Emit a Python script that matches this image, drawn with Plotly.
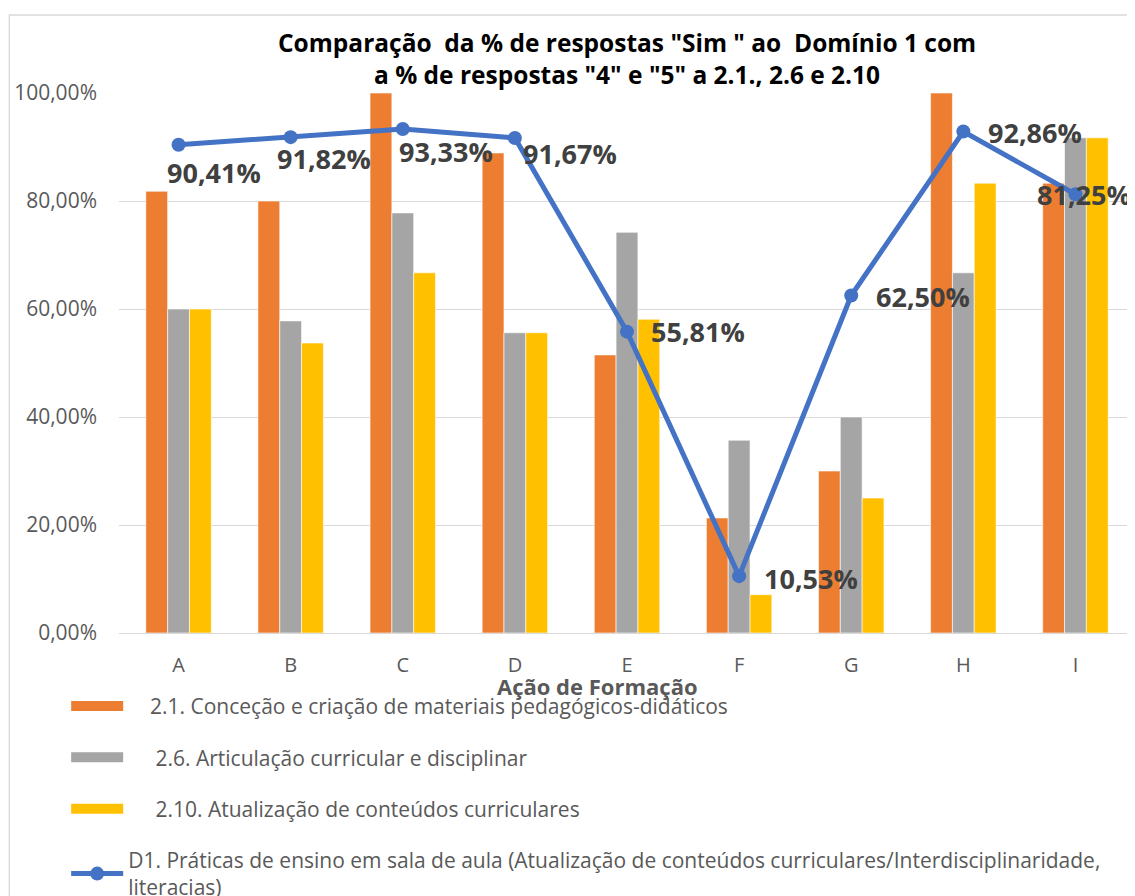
import plotly.graph_objects as go

categories = ["A", "B", "C", "D", "E", "F", "G", "H", "I"]
s21 = [0.818, 0.800, 1.000, 0.889, 0.515, 0.213, 0.300, 1.000, 0.833]
s26 = [0.600, 0.578, 0.778, 0.556, 0.742, 0.357, 0.400, 0.667, 0.917]
s210 = [0.600, 0.537, 0.667, 0.556, 0.581, 0.071, 0.250, 0.833, 0.917]
d1 = [0.9041, 0.9182, 0.9333, 0.9167, 0.5581, 0.1053, 0.6250, 0.9286, 0.8125]

NB = "\u00a0"
name21 = NB * 4 + "2.1. Conceção e criação de materiais pedagógicos-didáticos"
name26 = NB * 5 + "2.6. Articulação curricular e disciplinar"
name210 = NB * 5 + "2.10. Atualização de conteúdos curriculares"
named1 = "D1. Práticas de ensino em sala de aula (Atualização de conteúdos curriculares/Interdisciplinaridade,<br>literacias)"
title_text = ("Comparação  da % de respostas \"Sim \" ao  Domínio 1 com<br>"
              "a % de respostas \"4\" e \"5\" a 2.1., 2.6 e 2.10")
xtitle = "Ação de Formação"

# pixel offsets of each data label (left edge, vertical centre) from its point
label_dx = [-14, -16, -6, 6, 22, 23, 23, 23, -40]
label_dy = [28, 21, 22, 16, 0, 2, 1, 1, 0]

FONT = "Open Sans"
C21, C26, C210, CD1 = "#ED7D31", "#A5A5A5", "#FFC000", "#4472C4"
fig = go.Figure()
bar_line = dict(color="white", width=0.6)
for vals, name, col, grp in [(s21, name21, C21, "a"), (s26, name26, C26, "b"), (s210, name210, C210, "c")]:
    fig.add_bar(x=categories, y=vals, name=name, marker=dict(color=col, line=bar_line),
                legendgroup=grp, showlegend=False)
    # legend-only entry giving the wide rectangular key of the original
    fig.add_scatter(x=[None], y=[None], mode="lines", name=name, legendgroup=grp,
                    line=dict(color=col, width=14), hoverinfo="skip")
fig.add_scatter(x=categories, y=d1, name=named1, mode="lines+markers",
                line=dict(color=CD1, width=5), marker=dict(size=14, color=CD1),
                legendgroup="d", cliponaxis=False)

for c, v, dx, dy in zip(categories, d1, label_dx, label_dy):
    txt = f"{v * 100:.2f}%".replace(".", ",")
    fig.add_annotation(x=c, y=v, xref="x", yref="y", text=txt, showarrow=False,
                       xanchor="left", yanchor="middle", xshift=dx, yshift=-dy,
                       font=dict(family=FONT, size=27, color="#404040", weight="bold"))

fig.update_layout(
    width=1127, height=888,
    margin=dict(l=111, r=0, t=85, b=263, autoexpand=False),
    paper_bgcolor="white", plot_bgcolor="white",
    separators=",.",
    barmode="group", bargap=0.416, bargroupgap=0,
    font=dict(family=FONT, color="#595959"),
    showlegend=True,
    legend=dict(orientation="v", x=-0.052, xanchor="left", y=-0.098, yanchor="top",
                font=dict(family=FONT, size=21, color="#595959"),
                itemwidth=52, tracegroupgap=21, traceorder="grouped",
                bgcolor="rgba(0,0,0,0)"),
)
fig.add_annotation(text=title_text, xref="paper", yref="paper", x=0.5, y=1.0648,
                   xanchor="center", yanchor="middle", showarrow=False,
                   font=dict(family=FONT, size=24.5, color="black", weight="bold"))
fig.update_yaxes(range=[0, 1], tickformat=".2%", dtick=0.2, showgrid=True, gridcolor="#D9D9D9",
                 gridwidth=1.3, zeroline=True, zerolinecolor="#D9D9D9", zerolinewidth=1.3,
                 ticks="", ticklabelstandoff=21, tickfont=dict(family=FONT, size=21, color="#595959"))
fig.update_xaxes(ticks="", tickfont=dict(family=FONT, size=20, color="#595959"), ticklabelstandoff=18,
                 showline=False)
fig.add_annotation(text=xtitle, xref="paper", yref="paper", x=0.4705, y=-0.098, yanchor="middle",
                   showarrow=False, font=dict(family=FONT, size=22, color="#595959", weight="bold"))
# chart border
fig.add_shape(type="rect", xref="paper", yref="paper", x0=-0.108, y0=-0.6, x1=1.2, y1=1.1444,
              line=dict(color="#D9D9D9", width=1.3), layer="below")
fig.write_html("out.html")
